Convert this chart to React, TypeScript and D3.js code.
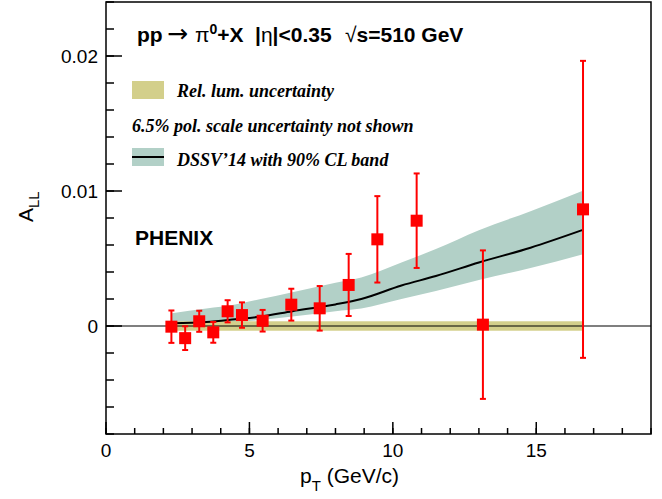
import React from "react";
import * as d3 from "d3";

// ---- data ----
const ptValues = [2.28, 2.76, 3.25, 3.74, 4.24, 4.74, 5.46, 6.46, 7.45, 8.46, 9.46, 10.83, 13.14, 16.63];
const allValues = [-0.00005, -0.0009, 0.00035, -0.00047, 0.00109, 0.00081, 0.00039, 0.00158, 0.00131, 0.00304, 0.00642, 0.0078, 0.0001, 0.00864];
const allErrors = [0.0012, 0.00088, 0.00078, 0.00077, 0.00082, 0.00094, 0.0008, 0.00118, 0.00165, 0.0023, 0.0032, 0.0035, 0.0055, 0.011];

const theoryPt = [2.3, 3.5, 4.5, 5.4, 6.5, 8.0, 8.9, 10.3, 11.5, 13.0, 14.8, 16.6];
const theoryCentral = [0.0002, 0.0003, 0.0005, 0.0007, 0.0011, 0.0016, 0.002, 0.003, 0.0037, 0.0047, 0.0058, 0.0071];
const theoryLow = [0.0, 0.0001, 0.0003, 0.00044, 0.0007, 0.0011, 0.0013, 0.002, 0.0026, 0.0034, 0.0043, 0.0053];
const theoryHigh = [0.00095, 0.0013, 0.0016, 0.002, 0.0025, 0.0032, 0.0036, 0.0047, 0.0057, 0.0071, 0.0085, 0.01];

const relLumRange = [2.3, 16.6];
const relLumHalfWidth = 0.00035;

const xMajorTicks = [0, 5, 10, 15];
const xMinorTicks = d3.range(0, 20, 1);
const yMajorTicks = [0, 0.01, 0.02];
const yMinorTicks = d3.range(-0.008, 0.0241, 0.002);

const W = 662;
const H = 499;
const left = 106;
const right = 651;
const top = 2;
const bottom = 434;

export default function App() {
  const x = d3.scaleLinear().domain([0, 19]).range([left, right]);
  const y = d3.scaleLinear().domain([-0.008, 0.024]).range([bottom, top]);

  const idx = theoryPt.map((_, i) => i);
  const area = d3
    .area<number>()
    .x((i) => x(theoryPt[i]))
    .y0((i) => y(theoryLow[i]))
    .y1((i) => y(theoryHigh[i]))
    .curve(d3.curveMonotoneX);
  const line = d3
    .line<number>()
    .x((i) => x(theoryPt[i]))
    .y((i) => y(theoryCentral[i]))
    .curve(d3.curveMonotoneX);

  const teal = "#b2d0c7";
  const olive = "#d3cf8b";
  const red = "#ff0000";
  const sans = "'Liberation Sans', Arial, Helvetica, sans-serif";
  const serif = "'Liberation Serif', 'Times New Roman', serif";

  return (
    <svg
      width={W}
      height={H}
      style={{ position: "absolute", left: 0, top: 0, background: "#fff" }}
      fontFamily={sans}
    >
      <rect x={0} y={0} width={W} height={H} fill="#fff" />
      {/* theory band */}
      <path d={area(idx) || ""} fill={teal} stroke="none" />
      {/* rel lum band */}
      <rect
        x={x(relLumRange[0])}
        y={y(relLumHalfWidth)}
        width={x(relLumRange[1]) - x(relLumRange[0])}
        height={y(-relLumHalfWidth) - y(relLumHalfWidth)}
        fill={olive}
      />
      {/* zero line */}
      <line x1={left} x2={right} y1={y(0)} y2={y(0)} stroke="#000" strokeWidth={1.2} />
      {/* theory line */}
      <path d={line(idx) || ""} fill="none" stroke="#000" strokeWidth={2} />

      {/* data */}
      {ptValues.map((pt, i) => {
        const cx = x(pt);
        const cy = y(allValues[i]);
        const yt = y(allValues[i] + allErrors[i]);
        const yb = y(allValues[i] - allErrors[i]);
        return (
          <g key={i}>
            <line x1={cx} x2={cx} y1={yt} y2={yb} stroke={red} strokeWidth={2} />
            <line x1={cx - 3} x2={cx + 3} y1={yt} y2={yt} stroke={red} strokeWidth={2} />
            <line x1={cx - 3} x2={cx + 3} y1={yb} y2={yb} stroke={red} strokeWidth={2} />
            <rect x={cx - 6} y={cy - 6} width={12} height={12} fill={red} />
          </g>
        );
      })}

      {/* frame */}
      <rect x={left} y={top} width={right - left} height={bottom - top} fill="none" stroke="#000" strokeWidth={1.5} />

      {/* x ticks */}
      {xMinorTicks.map((t) => (
        <line key={"xm" + t} x1={x(t)} x2={x(t)} y1={bottom} y2={bottom - 6} stroke="#000" strokeWidth={1.5} />
      ))}
      {xMajorTicks.map((t) => (
        <g key={"xM" + t}>
          <line x1={x(t)} x2={x(t)} y1={bottom} y2={bottom - 12} stroke="#000" strokeWidth={1.5} />
          <text x={x(t)} y={bottom + 23} textAnchor="middle" fontSize={19}>
            {t}
          </text>
        </g>
      ))}
      {/* y ticks */}
      {yMinorTicks.map((t, i) => (
        <line key={"ym" + i} x1={left} x2={left + 8} y1={y(t)} y2={y(t)} stroke="#000" strokeWidth={1.5} />
      ))}
      {yMajorTicks.map((t) => (
        <g key={"yM" + t}>
          <line x1={left} x2={left + 16} y1={y(t)} y2={y(t)} stroke="#000" strokeWidth={1.5} />
          <text x={left - 8} y={y(t) + 7} textAnchor="end" fontSize={19}>
            {t === 0 ? "0" : d3.format(".2f")(t)}
          </text>
        </g>
      ))}

      {/* axis titles */}
      <text x={300} y={483} fontSize={21}>
        p<tspan dy={8} fontSize={15}>T</tspan>
        <tspan dy={-8}> (GeV/c)</tspan>
      </text>
      <text transform="translate(33,222) rotate(-90)" fontSize={21}>
        A<tspan dy={6} fontSize={15}>LL</tspan>
      </text>

      {/* title */}
      <g fontSize={21} fontWeight="bold">
        <text x={137} y={42}>pp</text>
        <text x={167} y={42} fontWeight="normal" fontFamily="'DejaVu Sans', sans-serif" fontSize={25}>→</text>
        <text x={195} y={42}>
          <tspan fontWeight="normal">π</tspan>
          <tspan dy={-8} fontSize={14}>0</tspan>
          <tspan dy={8}>+X</tspan>
        </text>
        <text x={255} y={42}>
          |<tspan fontWeight="normal">η</tspan>|&lt;0.35
        </text>
        <text x={345} y={42}>
          <tspan fontWeight="normal">√</tspan>s=510 GeV
        </text>
      </g>

      {/* legend */}
      <rect x={132} y={81} width={32} height={18} fill={olive} />
      <text x={177} y={97} fontFamily={serif} fontStyle="italic" fontWeight="bold" fontSize={18}>
        Rel. lum. uncertainty
      </text>
      <text x={132} y={132} fontFamily={serif} fontStyle="italic" fontWeight="bold" fontSize={18}>
        6.5% pol. scale uncertainty not shown
      </text>
      <rect x={132} y={148} width={32} height={18} fill={teal} />
      <line x1={132} x2={164} y1={157} y2={157} stroke="#000" strokeWidth={2} />
      <text x={177} y={166} fontFamily={serif} fontStyle="italic" fontWeight="bold" fontSize={18}>
        DSSV’14 with 90% CL band
      </text>

      <text x={135} y={245} fontSize={21} fontWeight="bold">
        PHENIX
      </text>
    </svg>
  );
}
